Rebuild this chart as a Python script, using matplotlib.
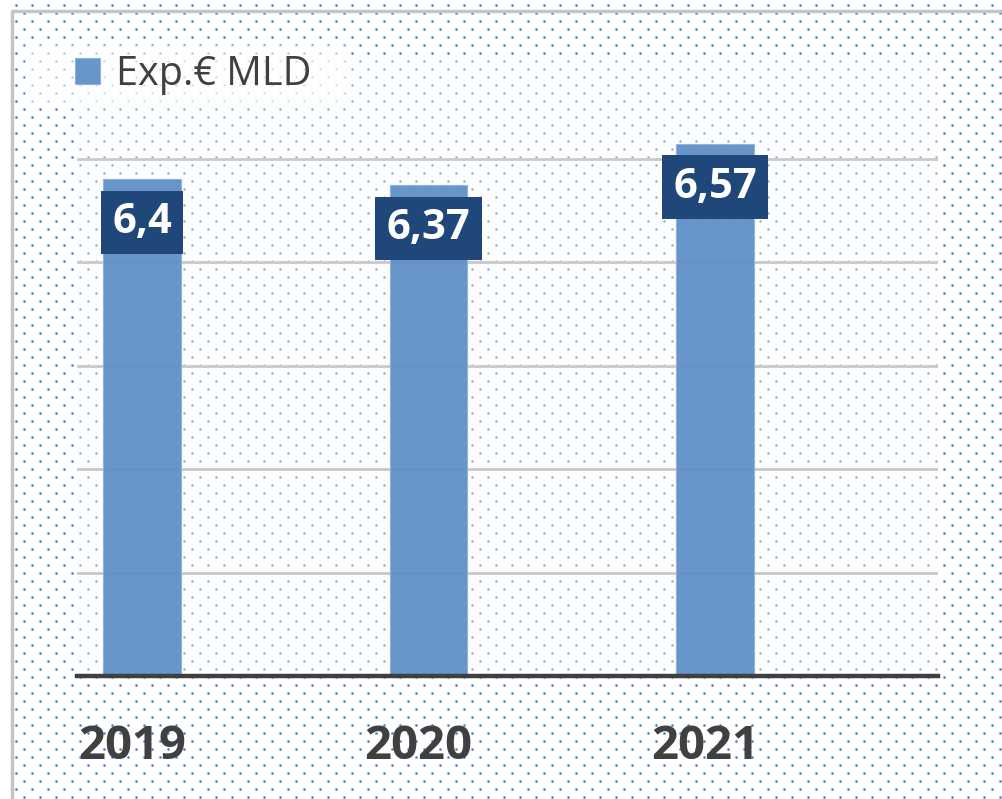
import numpy as np
import matplotlib
matplotlib.use("Agg")
import matplotlib.pyplot as plt
from matplotlib.patches import Rectangle
from matplotlib.transforms import ScaledTranslation

# ---- data ----
years = ["2019", "2020", "2021"]
values = [6.4, 6.37, 6.57]
value_labels = ["6,4", "6,37", "6,57"]
series_name = "Exp.€ MLD"
grid_values = [4.5, 5.0, 5.5, 6.0, 6.5]

plt.rcParams['font.family'] = ['Open Sans', 'DejaVu Sans']

W, H = 1003, 799
fig = plt.figure(figsize=(W / 100, H / 100), dpi=100)
fig.patch.set_facecolor('white')

# background decoration axes in pixel coordinates
bg = fig.add_axes([0, 0, 1, 1], zorder=0)
bg.set_xlim(0, W)
bg.set_ylim(H, 0)
bg.axis('off')

# plot area in pixels
PL, PR, PT, PB = 77, 938, 55, 676

# dotted pattern
xs, ys, inside = [], [], []
row = 0
for y in np.arange(5, H, 8.0):
    off = 8 if row % 2 else 0
    for x in np.arange(16 + off, W, 16.0):
        xs.append(x); ys.append(y)
        inside.append(PL < x < PR and PT < y < PB)
    row += 1
xs = np.array(xs); ys = np.array(ys); inside = np.array(inside)
bg.add_patch(Rectangle((PL, PT), PR - PL, PB - PT, facecolor='#fcfdfe', edgecolor='none', zorder=1))
bg.scatter(xs[~inside], ys[~inside], s=3.6, c='#4f84c6', marker='o', linewidths=0, zorder=2)
bg.scatter(xs[inside], ys[inside], s=3.0, c='#a0a8b6', marker='o', linewidths=0, zorder=2)

# legend backdrop
bg.add_patch(Rectangle((25, 45), 320, 60, facecolor='white', alpha=0.6, edgecolor='none', zorder=3))

# outer border (left and top)
bg.plot([12, 12], [H, 11], color='#c4c4c4', lw=2.5, zorder=3, solid_capstyle='butt')
bg.plot([11, W], [11, 11], color='#c4c4c4', lw=2.5, zorder=3, solid_capstyle='butt')

# main axes
ax = fig.add_axes([PL / W, 1 - PB / H, (PR - PL) / W, (PB - PT) / H], zorder=1)
ax.set_facecolor('none')
x = np.arange(len(years))
ax.set_xlim(-0.227, 2.778)
ax.set_ylim(4.0, 7.0)

for g in grid_values:
    ax.axhline(g, color='#c9c9c9', lw=2, zorder=1)

bars = ax.bar(x, values, width=0.27, color='#6090c8', alpha=0.95,
              edgecolor='#8fb2dc', linewidth=0.8, zorder=2, label=series_name)

ax.axhline(4.0, color='#3f3f3f', lw=3.2, zorder=3, clip_on=False)

for xi, v, lab in zip(x, values, value_labels):
    ax.annotate(lab, (xi, v), xytext=(0, -31), textcoords='offset points',
                ha='center', va='center', color='white', fontsize=30, fontweight='bold',
                zorder=4,
                bbox=dict(boxstyle='square,pad=0.27', facecolor='#1f477a', edgecolor='none'))

for s in ax.spines.values():
    s.set_visible(False)
ax.set_yticks([])
ax.set_xticks(x)
ax.set_xticklabels(years, fontsize=34, fontweight='bold', color='#404040')
ax.tick_params(axis='x', length=0, pad=34)
shift = ScaledTranslation(-10 / 100, 0, fig.dpi_scale_trans)
for lbl in ax.get_xticklabels():
    lbl.set_transform(lbl.get_transform() + shift)

leg = fig.legend(handles=[bars], labels=[series_name], loc='center left',
                 bbox_to_anchor=(75 / W, 1 - 75 / H), bbox_transform=fig.transFigure,
                 fontsize=28.5, frameon=False, handlelength=0.64, handleheight=0.64,
                 handletextpad=0.4, borderpad=0, borderaxespad=0)
for t in leg.get_texts():
    t.set_color('#404040')
leg.set_zorder(5)

fig.savefig('out.png', dpi=100, facecolor='white')
